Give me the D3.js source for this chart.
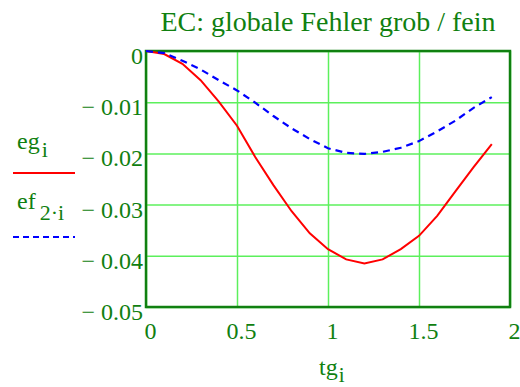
<!DOCTYPE html>
<html>
<head>
<meta charset="utf-8">
<script src="https://cdn.jsdelivr.net/npm/d3@7"></script>
<style>
    body { margin: 0; background: white; }
    text { font-family: "Liberation Serif", "Times New Roman", serif; fill: #108010; }
</style>
</head>
<body>
<div id="chart"></div>
<script>
const tg = [0, 0.1, 0.2, 0.3, 0.4, 0.5, 0.6, 0.7, 0.8, 0.9, 1.0, 1.1, 1.2, 1.3, 1.4, 1.5, 1.6, 1.7, 1.8, 1.9]
const eg = [0, -0.0006, -0.0025, -0.0057, -0.0099, -0.0146, -0.0207, -0.0262, -0.0313, -0.0356, -0.0387, -0.0407, -0.0415, -0.0407, -0.0387, -0.0361, -0.0322, -0.0274, -0.0227, -0.0182]
const ef = [0, -0.0004, -0.0019, -0.0036, -0.0057, -0.0077, -0.0101, -0.0127, -0.0151, -0.0172, -0.0190, -0.0199, -0.0201, -0.0197, -0.0189, -0.0176, -0.0157, -0.0136, -0.0111, -0.0090]

const xTicks = [0, 0.5, 1, 1.5, 2]
const xTickLabels = ['0', '0.5', '1', '1.5', '2']
const yTicks = [0, -0.01, -0.02, -0.03, -0.04, -0.05]
const yTickLabels = ['0', '\u2212 0.01', '\u2212 0.02', '\u2212 0.03', '\u2212 0.04', '\u2212 0.05']

const title = 'EC: globale Fehler grob / fein'

const W = 520, H = 387
const pl = 146, pr = 510, pt = 51, pb = 307
const green = '#108010'

const svg = d3.select('#chart').append('svg')
    .attr('width', W)
    .attr('height', H)

const x = d3.scaleLinear().domain([0, 2]).range([pl, pr])
const y = d3.scaleLinear().domain([-0.05, 0]).range([pb, pt])

// grid
svg.append('g')
    .attr('transform', `translate(0,${pb})`)
    .call(d3.axisBottom(x).tickValues(xTicks).tickSize(-(pb - pt)).tickFormat(''))
    .call(g => g.select('.domain').remove())
    .selectAll('line').attr('stroke', '#5cf05c').attr('stroke-width', 1.5)

svg.append('g')
    .attr('transform', `translate(${pl},0)`)
    .call(d3.axisLeft(y).tickValues(yTicks).tickSize(-(pr - pl)).tickFormat(''))
    .call(g => g.select('.domain').remove())
    .selectAll('line').attr('stroke', '#5cf05c').attr('stroke-width', 1.5)

// frame
svg.append('rect')
    .attr('x', pl)
    .attr('y', pt)
    .attr('width', pr - pl)
    .attr('height', pb - pt)
    .attr('fill', 'none')
    .attr('stroke', green)
    .attr('stroke-width', 2.5)

// tick labels
const xAxis = svg.append('g')
    .attr('transform', `translate(0,${pb})`)
    .call(d3.axisBottom(x).tickValues(xTicks).tickSize(0).tickFormat((d, i) => xTickLabels[i]))
xAxis.select('.domain').remove()
xAxis.selectAll('text')
    .attr('x', 4)
    .attr('y', 0)
    .attr('dy', 32)
    .attr('font-size', '24px')
    .attr('fill', green)

const yAxis = svg.append('g')
    .attr('transform', `translate(${pl},0)`)
    .call(d3.axisLeft(y).tickValues(yTicks).tickSize(0).tickFormat((d, i) => yTickLabels[i]))
yAxis.select('.domain').remove()
yAxis.selectAll('text')
    .attr('x', -3)
    .attr('dy', 12.5)
    .attr('font-size', '24px')
    .attr('fill', green)

// curves
const line = d3.line()
    .x((d, i) => x(tg[i]))
    .y(d => y(d))

svg.append('path')
    .datum(eg)
    .attr('d', line)
    .attr('fill', 'none')
    .attr('stroke', '#ff0000')
    .attr('stroke-width', 2)

svg.append('path')
    .datum(ef)
    .attr('d', line)
    .attr('fill', 'none')
    .attr('stroke', '#0000ff')
    .attr('stroke-width', 2.2)
    .attr('stroke-dasharray', '7,5')

// title
svg.append('text')
    .attr('x', (pl + pr) / 2)
    .attr('y', 31)
    .attr('text-anchor', 'middle')
    .attr('font-size', '28px')
    .text(title)

// legend
const leg1 = svg.append('text')
    .attr('x', 17)
    .attr('y', 149)
    .attr('font-size', '24px')
leg1.append('tspan').text('eg')
leg1.append('tspan').attr('dy', 8).attr('dx', 2).attr('font-size', '22px').text('i')

svg.append('line')
    .attr('x1', 13).attr('x2', 75)
    .attr('y1', 173).attr('y2', 173)
    .attr('stroke', '#ff0000')
    .attr('stroke-width', 2)

const leg2 = svg.append('text')
    .attr('x', 17)
    .attr('y', 209)
    .attr('font-size', '24px')
leg2.append('tspan').text('ef')
leg2.append('tspan').attr('dy', 11).attr('dx', 4).attr('font-size', '22px').text('2\u00b7i')

svg.append('line')
    .attr('x1', 13).attr('x2', 75)
    .attr('y1', 237).attr('y2', 237)
    .attr('stroke', '#0000ff')
    .attr('stroke-width', 2)
    .attr('stroke-dasharray', '6,4')

// x label
const xl = svg.append('text')
    .attr('x', 319)
    .attr('y', 375)
    .attr('font-size', '24px')
xl.append('tspan').text('tg')
xl.append('tspan').attr('dy', 7).attr('dx', 1).attr('font-size', '21px').text('i')
</script>
</body>
</html>
